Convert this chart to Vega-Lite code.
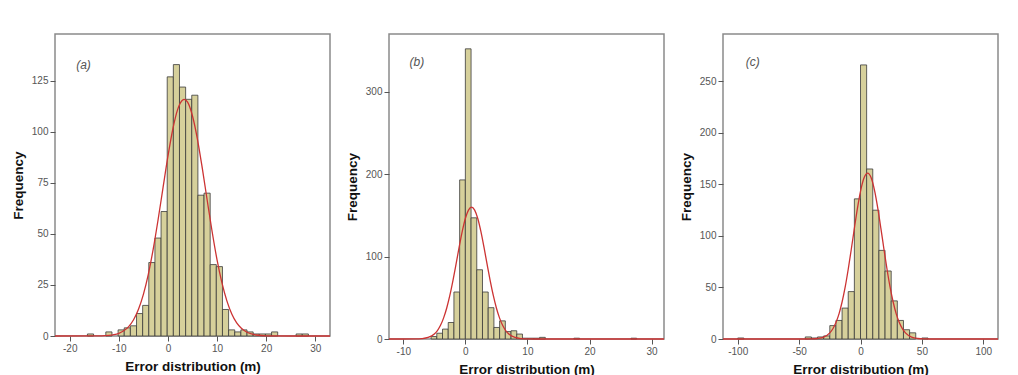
{
  "$schema": "https://vega.github.io/schema/vega-lite/v6.json",
  "autosize": {"type": "pad"},
  "padding": {"left": 10, "top": 33, "right": 0, "bottom": 0},
  "background": "white",
  "config": {
    "view": {"stroke": "#8a8a8a", "strokeWidth": 1.5},
    "font": "Liberation Sans",
    "axis": {"grid": false, "domain": false, "tickColor": "#555555", "tickSize": 5, "labelColor": "#555555", "labelFontSize": 10, "labelPadding": 2, "titleFontSize": 13.5, "titleFontWeight": "bold", "titleColor": "#111111", "titlePadding": 6, "labelExpr": "'' + datum.value"}
  },
  "datasets": {
    "bars_a": [
      {"x0": -16.4, "x1": -15.15, "n": 1},
      {"x0": -12.65, "x1": -11.4, "n": 2},
      {"x0": -10.15, "x1": -8.9, "n": 3},
      {"x0": -8.9, "x1": -7.65, "n": 4},
      {"x0": -7.65, "x1": -6.4, "n": 5},
      {"x0": -6.4, "x1": -5.15, "n": 11},
      {"x0": -5.15, "x1": -3.9, "n": 15},
      {"x0": -3.9, "x1": -2.65, "n": 36},
      {"x0": -2.65, "x1": -1.4, "n": 48},
      {"x0": -1.4, "x1": -0.15, "n": 61},
      {"x0": -0.15, "x1": 1.1, "n": 127},
      {"x0": 1.1, "x1": 2.35, "n": 133},
      {"x0": 2.35, "x1": 3.6, "n": 122},
      {"x0": 3.6, "x1": 4.85, "n": 116},
      {"x0": 4.85, "x1": 6.1, "n": 118},
      {"x0": 6.1, "x1": 7.35, "n": 69},
      {"x0": 7.35, "x1": 8.6, "n": 70},
      {"x0": 8.6, "x1": 9.85, "n": 35},
      {"x0": 9.85, "x1": 11.1, "n": 34},
      {"x0": 11.1, "x1": 12.35, "n": 13},
      {"x0": 12.35, "x1": 13.6, "n": 3},
      {"x0": 13.6, "x1": 14.85, "n": 2},
      {"x0": 14.85, "x1": 16.1, "n": 3},
      {"x0": 16.1, "x1": 17.35, "n": 2},
      {"x0": 17.35, "x1": 18.6, "n": 1},
      {"x0": 18.6, "x1": 19.85, "n": 1},
      {"x0": 19.85, "x1": 21.1, "n": 1},
      {"x0": 21.1, "x1": 22.35, "n": 2},
      {"x0": 26.1, "x1": 27.35, "n": 1},
      {"x0": 27.35, "x1": 28.6, "n": 1}
    ],
    "curve_a": [
      {"x": -23, "y": 0}, {"x": -15, "y": 0.02}, {"x": -12, "y": 0.31}, {"x": -11, "y": 0.66},
      {"x": -10, "y": 1.33}, {"x": -9, "y": 2.54}, {"x": -8, "y": 4.6}, {"x": -7, "y": 7.96},
      {"x": -6, "y": 13.1}, {"x": -5, "y": 20.4}, {"x": -4, "y": 30.2}, {"x": -3, "y": 42.6},
      {"x": -2, "y": 57.1}, {"x": -1, "y": 72.7}, {"x": 0, "y": 88.1}, {"x": 1, "y": 101.5},
      {"x": 2, "y": 111.2}, {"x": 3, "y": 115.7}, {"x": 3.3, "y": 116}, {"x": 4, "y": 114.6},
      {"x": 5, "y": 107.8}, {"x": 6, "y": 96.5}, {"x": 7, "y": 82.1}, {"x": 8, "y": 66.4},
      {"x": 9, "y": 51.1}, {"x": 10, "y": 37.3}, {"x": 11, "y": 26.0}, {"x": 12, "y": 17.2},
      {"x": 13, "y": 10.8}, {"x": 14, "y": 6.4}, {"x": 15, "y": 3.66}, {"x": 16, "y": 1.97},
      {"x": 17, "y": 1.01}, {"x": 18, "y": 0.49}, {"x": 20, "y": 0.1}, {"x": 25, "y": 0}, {"x": 33, "y": 0}
    ],
    "bars_b": [
      {"x0": -5.52, "x1": -4.6, "n": 3},
      {"x0": -4.6, "x1": -3.68, "n": 7},
      {"x0": -3.68, "x1": -2.76, "n": 12},
      {"x0": -2.76, "x1": -1.84, "n": 20},
      {"x0": -1.84, "x1": -0.92, "n": 57},
      {"x0": -0.92, "x1": 0, "n": 193},
      {"x0": 0, "x1": 0.92, "n": 352},
      {"x0": 0.92, "x1": 1.84, "n": 147},
      {"x0": 1.84, "x1": 2.76, "n": 84},
      {"x0": 2.76, "x1": 3.68, "n": 57},
      {"x0": 3.68, "x1": 4.6, "n": 38},
      {"x0": 4.6, "x1": 5.52, "n": 14},
      {"x0": 5.52, "x1": 6.44, "n": 22},
      {"x0": 6.44, "x1": 7.36, "n": 9},
      {"x0": 7.36, "x1": 8.28, "n": 10},
      {"x0": 8.28, "x1": 9.2, "n": 6},
      {"x0": 9.2, "x1": 10.12, "n": 1},
      {"x0": 10.12, "x1": 11.04, "n": 1},
      {"x0": 11.04, "x1": 11.96, "n": 1},
      {"x0": 11.96, "x1": 12.88, "n": 2},
      {"x0": 17.48, "x1": 18.4, "n": 1},
      {"x0": 26.68, "x1": 27.6, "n": 1}
    ],
    "curve_b": [
      {"x": -12.3, "y": 0}, {"x": -8, "y": 0.1}, {"x": -7, "y": 0.49}, {"x": -6, "y": 1.9},
      {"x": -5, "y": 6.1}, {"x": -4.5, "y": 10.3}, {"x": -4, "y": 16.6}, {"x": -3.5, "y": 25.6},
      {"x": -3, "y": 37.6}, {"x": -2.5, "y": 52.8}, {"x": -2, "y": 70.8}, {"x": -1.5, "y": 90.8},
      {"x": -1, "y": 111.4}, {"x": -0.5, "y": 130.5}, {"x": 0, "y": 146.2}, {"x": 0.5, "y": 156.4},
      {"x": 1, "y": 160}, {"x": 1.5, "y": 156.4}, {"x": 2, "y": 146.2}, {"x": 2.5, "y": 130.5},
      {"x": 3, "y": 111.4}, {"x": 3.5, "y": 90.8}, {"x": 4, "y": 70.8}, {"x": 4.5, "y": 52.8},
      {"x": 5, "y": 37.6}, {"x": 5.5, "y": 25.6}, {"x": 6, "y": 16.6}, {"x": 6.5, "y": 10.3},
      {"x": 7, "y": 6.1}, {"x": 8, "y": 1.9}, {"x": 9, "y": 0.49}, {"x": 10, "y": 0.1},
      {"x": 12, "y": 0}, {"x": 32, "y": 0}
    ],
    "bars_c": [
      {"x0": -100, "x1": -95, "n": 1},
      {"x0": -45, "x1": -40, "n": 2},
      {"x0": -40, "x1": -35, "n": 1},
      {"x0": -35, "x1": -30, "n": 2},
      {"x0": -30, "x1": -25, "n": 3},
      {"x0": -25, "x1": -20, "n": 13},
      {"x0": -20, "x1": -15, "n": 18},
      {"x0": -15, "x1": -10, "n": 30},
      {"x0": -10, "x1": -5, "n": 46},
      {"x0": -5, "x1": 0, "n": 136},
      {"x0": 0, "x1": 5, "n": 266},
      {"x0": 5, "x1": 10, "n": 165},
      {"x0": 10, "x1": 15, "n": 125},
      {"x0": 15, "x1": 20, "n": 86},
      {"x0": 20, "x1": 25, "n": 66},
      {"x0": 25, "x1": 30, "n": 37},
      {"x0": 30, "x1": 35, "n": 18},
      {"x0": 35, "x1": 40, "n": 9},
      {"x0": 40, "x1": 45, "n": 6},
      {"x0": 50, "x1": 55, "n": 1}
    ],
    "curve_c": [
      {"x": -112, "y": 0}, {"x": -45, "y": 0.02}, {"x": -40, "y": 0.11}, {"x": -35, "y": 0.5},
      {"x": -30, "y": 1.88}, {"x": -25, "y": 5.97}, {"x": -22.5, "y": 9.98}, {"x": -20, "y": 16.0},
      {"x": -17.5, "y": 24.4}, {"x": -15, "y": 35.9}, {"x": -12.5, "y": 50.3}, {"x": -10, "y": 67.7},
      {"x": -7.5, "y": 87.1}, {"x": -5, "y": 107.4}, {"x": -2.5, "y": 126.7}, {"x": 0, "y": 143.3},
      {"x": 3, "y": 156.7}, {"x": 5.8, "y": 161}, {"x": 8.6, "y": 156.7}, {"x": 11.6, "y": 143.3},
      {"x": 14.1, "y": 126.7}, {"x": 16.6, "y": 107.4}, {"x": 19.1, "y": 87.1}, {"x": 21.6, "y": 67.7},
      {"x": 24.1, "y": 50.3}, {"x": 26.6, "y": 35.9}, {"x": 29.1, "y": 24.4}, {"x": 31.6, "y": 16.0},
      {"x": 34.1, "y": 10.0}, {"x": 36.6, "y": 5.97}, {"x": 41.6, "y": 1.88}, {"x": 46.6, "y": 0.5},
      {"x": 51.6, "y": 0.11}, {"x": 56.6, "y": 0.02}, {"x": 112, "y": 0}
    ]
  },
  "spacing": 59,
  "bounds": "flush",
  "hconcat": [
    {
      "width": 275, "height": 302,
      "layer": [
        {
          "data": {"name": "bars_a"},
          "mark": {"type": "bar", "fill": "#d6d09b", "stroke": "#3a3a3a", "strokeWidth": 0.8},
          "encoding": {
            "x": {"field": "x0", "type": "quantitative", "title": "Error distribution (m)", "scale": {"domain": [-23, 33], "nice": false, "zero": false}, "axis": {"values": [-20, -10, 0, 10, 20, 30]}},
            "x2": {"field": "x1"},
            "y": {"field": "n", "type": "quantitative", "title": "Frequency", "scale": {"domain": [0, 148], "nice": false}, "axis": {"values": [0, 25, 50, 75, 100, 125]}},
            "y2": {"datum": 0}
          }
        },
        {
          "data": {"name": "curve_a"},
          "mark": {"type": "line", "color": "#cc3333", "strokeWidth": 1.3, "interpolate": "monotone"},
          "encoding": {
            "x": {"field": "x", "type": "quantitative", "title": "Error distribution (m)"},
            "y": {"field": "y", "type": "quantitative", "title": "Frequency"}
          }
        },
        {
          "data": {"values": [{"t": "(a)", "x": -17.2, "y": 133}]},
          "mark": {"type": "text", "fontStyle": "italic", "fontSize": 12, "color": "#555555"},
          "encoding": {
            "x": {"field": "x", "type": "quantitative", "title": "Error distribution (m)"},
            "y": {"field": "y", "type": "quantitative", "title": "Frequency"},
            "text": {"field": "t"}
          }
        }
      ]
    },
    {
      "width": 275, "height": 305,
      "layer": [
        {
          "data": {"name": "bars_b"},
          "mark": {"type": "bar", "fill": "#d6d09b", "stroke": "#3a3a3a", "strokeWidth": 0.8},
          "encoding": {
            "x": {"field": "x0", "type": "quantitative", "title": "Error distribution (m)", "scale": {"domain": [-12.3, 32], "nice": false, "zero": false}, "axis": {"values": [-10, 0, 10, 20, 30]}},
            "x2": {"field": "x1"},
            "y": {"field": "n", "type": "quantitative", "title": "Frequency", "scale": {"domain": [0, 370], "nice": false}, "axis": {"values": [0, 100, 200, 300]}},
            "y2": {"datum": 0}
          }
        },
        {
          "data": {"name": "curve_b"},
          "mark": {"type": "line", "color": "#cc3333", "strokeWidth": 1.3, "interpolate": "monotone"},
          "encoding": {
            "x": {"field": "x", "type": "quantitative", "title": "Error distribution (m)"},
            "y": {"field": "y", "type": "quantitative", "title": "Frequency"}
          }
        },
        {
          "data": {"values": [{"t": "(b)", "x": -7.8, "y": 336}]},
          "mark": {"type": "text", "fontStyle": "italic", "fontSize": 12, "color": "#555555"},
          "encoding": {
            "x": {"field": "x", "type": "quantitative", "title": "Error distribution (m)"},
            "y": {"field": "y", "type": "quantitative", "title": "Frequency"},
            "text": {"field": "t"}
          }
        }
      ]
    },
    {
      "width": 275, "height": 305,
      "layer": [
        {
          "data": {"name": "bars_c"},
          "mark": {"type": "bar", "fill": "#d6d09b", "stroke": "#3a3a3a", "strokeWidth": 0.8},
          "encoding": {
            "x": {"field": "x0", "type": "quantitative", "title": "Error distribution (m)", "scale": {"domain": [-112, 112], "nice": false, "zero": false}, "axis": {"values": [-100, -50, 0, 50, 100]}},
            "x2": {"field": "x1"},
            "y": {"field": "n", "type": "quantitative", "title": "Frequency", "scale": {"domain": [0, 296], "nice": false}, "axis": {"values": [0, 50, 100, 150, 200, 250]}},
            "y2": {"datum": 0}
          }
        },
        {
          "data": {"name": "curve_c"},
          "mark": {"type": "line", "color": "#cc3333", "strokeWidth": 1.3, "interpolate": "monotone"},
          "encoding": {
            "x": {"field": "x", "type": "quantitative", "title": "Error distribution (m)"},
            "y": {"field": "y", "type": "quantitative", "title": "Frequency"}
          }
        },
        {
          "data": {"values": [{"t": "(c)", "x": -87.8, "y": 269}]},
          "mark": {"type": "text", "fontStyle": "italic", "fontSize": 12, "color": "#555555"},
          "encoding": {
            "x": {"field": "x", "type": "quantitative", "title": "Error distribution (m)"},
            "y": {"field": "y", "type": "quantitative", "title": "Frequency"},
            "text": {"field": "t"}
          }
        }
      ]
    }
  ]
}
